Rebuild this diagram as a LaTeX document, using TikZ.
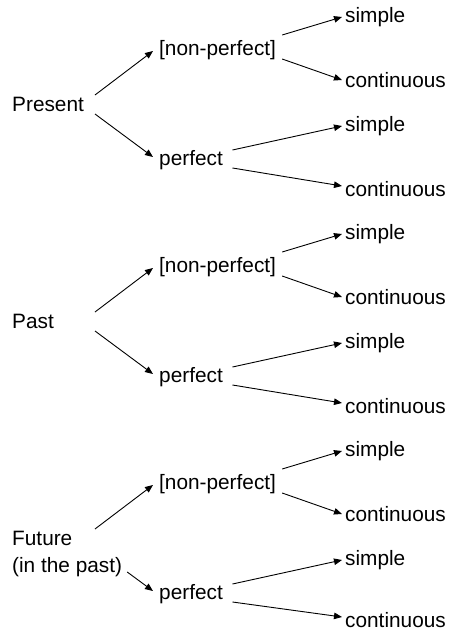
\documentclass[tikz,border=0pt]{standalone}
\usepackage{fontspec}
\setmainfont{Liberation Sans}
\usetikzlibrary{arrows.meta}
\begin{document}
\begin{tikzpicture}[x=1pt,y=-1pt,
  lbl/.style={anchor=base west,inner sep=0pt,font=\fontsize{20.8}{25}\selectfont},
  arr/.style={line width=0.9pt,-{Triangle[length=8pt,width=6.5pt]}}]
\useasboundingbox (0,0) rectangle (449,632);

% tense roots
\node[lbl] (Ra) at (12,111) {Present};
\node[lbl] (Rb) at (12,328) {Past};
\node[lbl] (Rc) at (12,545) {Future};
\node[lbl] (Rd) at (12,572) {(in the past)};

% aspect branches, one block per tense
\foreach \k/\off/\ub in {a/0/196,b/217/413,c/434/627} {
  \node[lbl] (N\k) at (159,55+\off) {[non-perfect]};
  \node[lbl] (P\k) at (159,165+\off) {perfect};
  \node[lbl] (S\k) at (345,22+\off) {simple};
  \node[lbl] (C\k) at (345,87+\off) {continuous};
  \node[lbl] (T\k) at (345,131+\off) {simple};
  \node[lbl] (U\k) at (345,\ub) {continuous};
  \draw[arr] ([shift={(6,-20)}]N\k.base east) -- ([shift={(-3,-5)}]S\k.base west);
  \draw[arr] ([shift={(6,4)}]N\k.base east) -- ([shift={(-3,-7)}]C\k.base west);
  \draw[arr] ([shift={(9.5,-15)}]P\k.base east) -- ([shift={(-3,-5)}]T\k.base west);
  \draw[arr] ([shift={(9.5,3)}]P\k.base east) -- ([shift={(-3,-10)}]U\k.base west);
}

% root arrows
\draw[arr] ([shift={(83,-16)}]Ra.base west) -- ([shift={(-6,-4)}]Na.base west);
\draw[arr] ([shift={(83,3)}]Ra.base west) -- ([shift={(-6,-8)}]Pa.base west);
\draw[arr] ([shift={(83,-16)}]Rb.base west) -- ([shift={(-6,-4)}]Nb.base west);
\draw[arr] ([shift={(83,3)}]Rb.base west) -- ([shift={(-6,-8)}]Pb.base west);
\draw[arr] ([shift={(83,-16)}]Rc.base west) -- ([shift={(-6,-4)}]Nc.base west);
\draw[arr] ([shift={(5,0)}]Rd.base east) -- ([shift={(-6,-8)}]Pc.base west);
\end{tikzpicture}
\end{document}
